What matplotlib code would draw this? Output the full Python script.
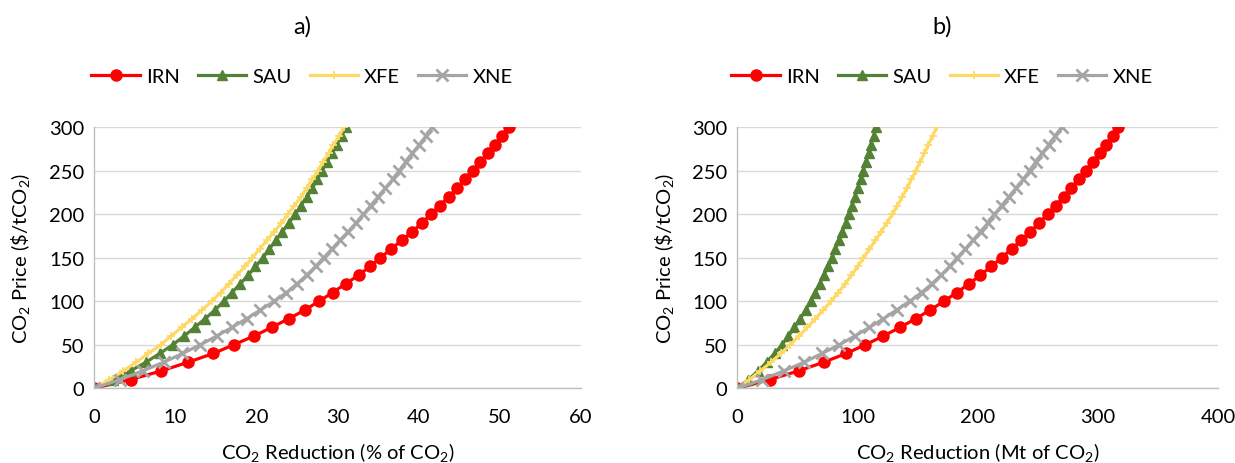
import matplotlib.pyplot as plt

plt.rcParams['font.family'] = ['Lato', 'DejaVu Sans']
plt.rcParams['mathtext.fontset'] = 'custom'
plt.rcParams['mathtext.rm'] = 'Lato'
plt.rcParams['mathtext.it'] = 'Lato:italic'

# CO2 price levels ($/tCO2), one marker every 10
price = list(range(0, 301, 10))

# panel a) reduction in % of CO2
irn_pct = [0, 4.5, 8.3, 11.6, 14.7, 17.2, 19.7, 21.9, 24.0, 26.0, 27.7,
           29.4, 31.0, 32.6, 34.0, 35.3, 36.6, 37.9, 39.2, 40.4, 41.5,
           42.6, 43.7, 44.7, 45.7, 46.7, 47.6, 48.5, 49.4, 50.3, 51.1]
sau_pct = [0, 2.4, 4.5, 6.4, 8.1, 9.7, 11.1, 12.4, 13.7, 14.9, 16.0,
           17.0, 18.0, 19.0, 19.9, 20.8, 21.6, 22.4, 23.2, 24.0, 24.8,
           25.5, 26.2, 26.9, 27.5, 28.1, 28.7, 29.3, 29.9, 30.5, 31.0]
xfe_pct = [0, 1.9, 3.6, 5.2, 6.7, 8.2, 9.5, 10.8, 12.1, 13.3, 14.5,
           15.6, 16.6, 17.6, 18.6, 19.5, 20.4, 21.3, 22.2, 23.1, 23.9,
           24.7, 25.5, 26.2, 26.9, 27.6, 28.2, 28.9, 29.5, 30.2, 30.8]
xne_pct = [0, 3.2, 6.0, 8.6, 10.9, 13.1, 15.1, 17.0, 18.8, 20.5, 22.2,
           23.7, 25.0, 26.2, 27.3, 28.3, 29.3, 30.3, 31.3, 32.3, 33.2,
           34.1, 35.0, 35.9, 36.8, 37.6, 38.4, 39.2, 40.1, 40.9, 41.7]

# panel b) reduction in Mt of CO2
irn_mt = [0, 27.0, 51.0, 72.0, 90.5, 106.5, 121.5, 135.4, 148.5, 160.5, 172.0,
          182.6, 192.8, 202.3, 211.3, 220.0, 228.2, 236.1, 243.8, 251.1, 258.2,
          265.0, 271.5, 277.9, 284.1, 290.1, 296.0, 301.7, 307.2, 312.3, 317.1]
sau_mt = [0, 9.2, 17.3, 24.5, 31.0, 37.2, 42.6, 47.6, 52.4, 56.9, 61.0,
          64.8, 68.5, 72.0, 75.4, 78.6, 81.6, 84.5, 87.4, 90.2, 92.9,
          95.4, 97.9, 100.3, 102.6, 104.8, 107.0, 109.2, 111.3, 113.4, 115.4]
xfe_mt = [0, 10.0, 19.3, 28.0, 36.2, 44.0, 51.2, 58.2, 65.0, 71.6, 78.0,
          84.0, 89.7, 95.0, 100.1, 105.0, 110.0, 114.9, 119.7, 124.4, 129.0,
          133.2, 137.2, 141.1, 144.9, 148.5, 152.1, 155.6, 159.0, 162.5, 165.9]
xne_mt = [0, 20.7, 38.8, 55.6, 70.5, 84.8, 97.7, 110.0, 121.6, 132.6, 143.6,
          153.3, 161.8, 169.5, 176.6, 183.1, 189.6, 196.0, 202.5, 208.5, 214.0,
          220.0, 226.0, 232.0, 238.0, 243.3, 248.4, 253.6, 259.4, 264.6, 269.8]

names = ["IRN", "SAU", "XFE", "XNE"]
colors = ["#FF0000", "#548235", "#FFD966", "#A5A5A5"]
markers = ["o", "^", "+", "x"]
msizes = [8, 7.5, 6, 9]
medges = [1, 1, 1.3, 2]


def draw_panel(fig, ax, series, title, xlabel, xmax, xstep, xcenter):
    for vals, name, c, m, ms, mew in zip(series, names, colors, markers,
                                         msizes, medges):
        ax.plot(vals, price, color=c, lw=2.3, marker=m, markersize=ms,
                markeredgewidth=mew, label=name)
    ax.set_xlim(0, xmax)
    ax.set_ylim(0, 300)
    ax.set_xticks(range(0, xmax + 1, xstep))
    ax.set_yticks(range(0, 301, 50))
    ax.grid(axis="y", color="#D9D9D9", lw=1)
    ax.set_axisbelow(True)
    for s in ["top", "right"]:
        ax.spines[s].set_visible(False)
    for s in ["left", "bottom"]:
        ax.spines[s].set_color("#BFBFBF")
        ax.spines[s].set_linewidth(1)
    ax.tick_params(axis="y", length=0, labelsize=14.5, pad=7)
    ax.tick_params(axis="x", length=0, labelsize=14.5, pad=14)
    ax.set_xlabel(xlabel, fontsize=14.5)
    ax.xaxis.set_label_coords(0.5, -0.2)
    ax.set_ylabel(r"CO$_2$ Price (\$/tCO$_2$)", fontsize=14.5)
    ax.yaxis.set_label_coords(-0.127, 0.5)
    fig.text(xcenter / 1235, 1 - 27 / 464, title, fontsize=17,
             ha="center", va="center")
    ax.legend(loc="center", bbox_to_anchor=(xcenter / 1235, 1 - 77 / 464),
              bbox_transform=fig.transFigure, ncol=4, frameon=False,
              fontsize=14.5, handlelength=2.4, columnspacing=0.9,
              handletextpad=0.3)


fig = plt.figure(figsize=(12.35, 4.64), dpi=100)
ax1 = fig.add_axes([0.0761, 0.161, 0.3943, 0.5625])
ax2 = fig.add_axes([0.597, 0.161, 0.3892, 0.5625])

draw_panel(fig, ax1, [irn_pct, sau_pct, xfe_pct, xne_pct], "a)",
           r"CO$_2$ Reduction (% of CO$_2$)", 60, 10, 302)
draw_panel(fig, ax2, [irn_mt, sau_mt, xfe_mt, xne_mt], "b)",
           r"CO$_2$ Reduction (Mt of CO$_2$)", 400, 100, 942)

fig.savefig("out.png", dpi=100)
